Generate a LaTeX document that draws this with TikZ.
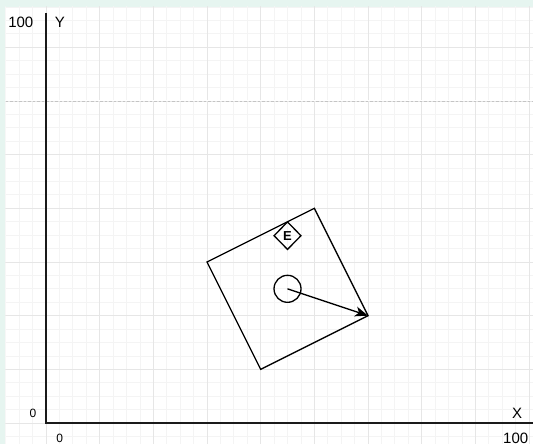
\documentclass[tikz,border=0pt]{standalone}
\usepackage{fontspec}
\setmainfont{Liberation Sans}
\usetikzlibrary{arrows.meta,shapes.geometric}
\definecolor{mint}{HTML}{E6F5F0}
\definecolor{minorgrid}{HTML}{F4F4F4}
\definecolor{majorgrid}{HTML}{E6E6E6}
\definecolor{ink}{HTML}{1A1A1A}
\tikzset{
  axisline/.style={draw=ink, line width=1.5pt},
  shapeline/.style={draw=black, line width=1.3pt},
  lbl/.style={inner sep=0pt, anchor=center, text=black},
  biglbl/.style={lbl, font=\fontsize{15}{17}\selectfont},
  smalllbl/.style={lbl, font=\fontsize{12}{14}\selectfont},
}
\begin{document}
\begin{tikzpicture}[x=53.67pt, y=53.67pt]
  \useasboundingbox (-46pt,-21pt) rectangle (487pt,423pt);
  % background
  \fill[mint] (-46pt,-21pt) rectangle (487pt,423pt);
  \fill[white] (-40.5pt,-21pt) rectangle (487pt,416pt);
  % grid
  \begin{scope}
    \clip (-40.5pt,-21pt) rectangle (487pt,416pt);
    \draw[minorgrid, line width=0.8pt, step=0.25] (-1,-1) grid (10,8);
    \draw[majorgrid, line width=0.9pt, step=1] (-1,-1) grid (10,8);
    \draw[white, line width=1pt] (-1,6) -- (10,6);
    \draw[majorgrid!85!black, line width=0.9pt, dash pattern=on 2.5pt off 2pt] (-1,6) -- (10,6);
  \end{scope}
  % axes
  \coordinate (o) at (0,0);
  \coordinate (ytop) at (0,410pt);
  \coordinate (xend) at (487pt,0);
  \draw[axisline] (ytop) -- (o) -- (xend);
  % labels
  \node[biglbl] (y100) at (-25.2pt,401pt) {100};
  \node[biglbl] (ylab) at (14pt,401pt) {Y};
  \node[smalllbl] (y0) at (-13pt,9.5pt) {0};
  \node[smalllbl] (x0) at (13.7pt,-15.5pt) {0};
  \node[biglbl] (xlab) at (471pt,10pt) {X};
  \node[biglbl, anchor=west] (x100) at (457pt,-15.5pt) {100};
  % rotated square
  \coordinate (l) at (3,3);
  \coordinate (t) at (5,4);
  \coordinate (r) at (6,2);
  \coordinate (b) at (4,1);
  \draw[shapeline, line join=miter] (l) -- (t) -- (r) -- (b) -- cycle;
  % circle and arrow
  \node[shapeline, circle, minimum size=27pt, inner sep=0pt] (c) at (4.5,2.5) {};
  \draw[shapeline, -{Stealth[length=13pt, width=10pt, inset=3.5pt]}] (c.center) -- (r);
  % diamond with E
  \node[shapeline, diamond, minimum width=27.4pt, minimum height=28pt, inner sep=0pt,
        font=\fontsize{13}{15}\selectfont\bfseries] (e) at (4.5,3.49) {E};
\end{tikzpicture}
\end{document}
